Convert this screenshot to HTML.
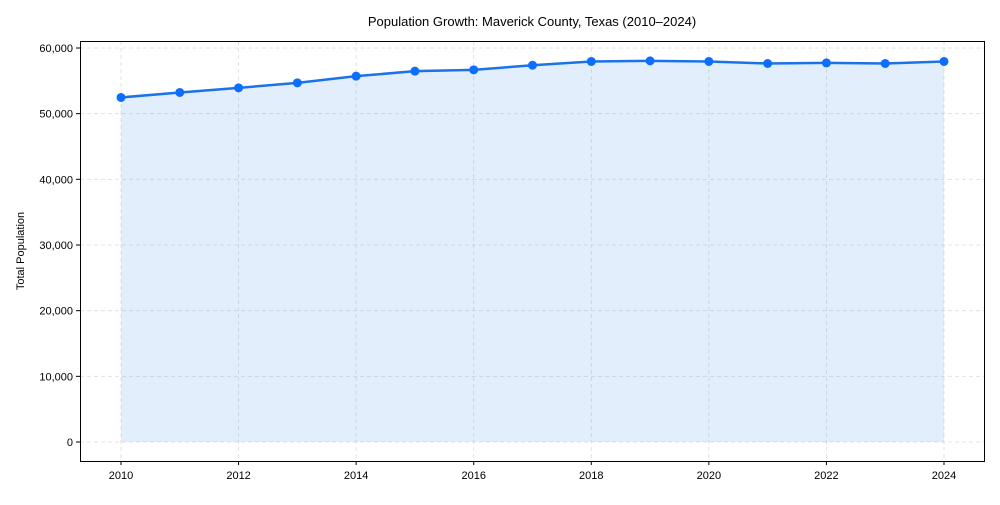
<!DOCTYPE html>
<html><head><meta charset="utf-8"><style>
body{margin:0;background:#fff;font-family:"Liberation Sans",sans-serif}
svg text{font-family:"Liberation Sans",sans-serif;fill:#000}
</style></head><body>
<svg id="chart" width="1000" height="500">
<text x="532" y="26" font-size="13" text-anchor="middle">Population Growth: Maverick County, Texas (2010–2024)</text>
<text transform="translate(24,251) rotate(-90)" font-size="11" text-anchor="middle">Total Population</text>
<g id="grid"></g><g id="marks"></g><g id="axes"></g>
<rect x="80.5" y="41.5" width="904" height="420" fill="none" stroke="#000" stroke-width="1"/>
</svg>
<script>
const years=[2010,2011,2012,2013,2014,2015,2016,2017,2018,2019,2020,2021,2022,2023,2024];
const population=[52470,53230,53930,54690,55710,56470,56670,57380,57950,58040,57950,57640,57730,57640,57950];
const yTicks=[0,10000,20000,30000,40000,50000,60000];
const xTicks=[2010,2012,2014,2016,2018,2020,2022,2024];
const ns="http://www.w3.org/2000/svg";
const X=v=>121+(v-2010)*(944-121)/14;
const Y=v=>442-v*(442-48)/60000;
function mk(t,a,p){const e=document.createElementNS(ns,t);for(const k in a)e.setAttribute(k,a[k]);p.appendChild(e);return e;}
const grid=document.getElementById('grid'),marks=document.getElementById('marks'),axes=document.getElementById('axes');
yTicks.forEach(v=>{const y=Y(v);
const g=mk('line',{x1:80,x2:985,y1:y,y2:y,stroke:'#ddd','stroke-dasharray':'4,3','stroke-width':0.8},grid);

mk('line',{x1:76,x2:80,y1:y,y2:y,stroke:'#000'},axes);
const t=mk('text',{x:73,y:y+4,'font-size':11,'text-anchor':'end'},axes);t.textContent=v.toLocaleString('en-US');
});
xTicks.forEach(v=>{const x=X(v);
const g=mk('line',{x1:x,x2:x,y1:41,y2:461,stroke:'#ddd','stroke-dasharray':'4,3','stroke-width':0.8},grid);

mk('line',{x1:x,x2:x,y1:461,y2:465,stroke:'#000'},axes);
const t=mk('text',{x:x,y:479,'font-size':11,'text-anchor':'middle'},axes);t.textContent=v;
});
let pts=years.map((y,i)=>X(y)+','+Y(population[i]));
const area=mk('polygon',{points:X(years[0])+','+Y(0)+' '+pts.join(' ')+' '+X(years[years.length-1])+','+Y(0),fill:'#1a73e8','fill-opacity':0.12},marks);

const line=mk('polyline',{points:pts.join(' '),fill:'none',stroke:'#1a73e8','stroke-width':2.5},marks);

years.forEach((y,i)=>{const c=mk('circle',{cx:X(y),cy:Y(population[i]),r:4.5,fill:'#0d6efd'},marks);
});
</script>
</body></html>
